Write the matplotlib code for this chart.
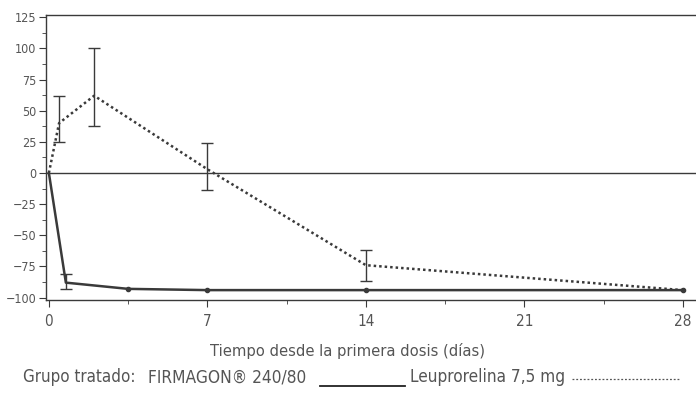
import matplotlib
matplotlib.use("Agg")
import matplotlib.pyplot as plt
from matplotlib.lines import Line2D
from matplotlib.ticker import MultipleLocator

# ================= DATA =================
firm_days = [0, 0.75, 3.5, 7, 14, 28]
firm_vals = [0, -88, -93, -94, -94, -94]
firm_err_day = [0.75]
firm_err_val = [-88]
firm_err_lo = [5]
firm_err_hi = [7]

leup_days = [0, 0.45, 2, 7, 14, 28]
leup_vals = [0, 40, 62, 3, -74, -94]
leup_err_days = [0.45, 2, 7, 14]
leup_err_vals = [40, 62, 3, -74]
leup_err_lo = [15, 24, 16.5, 13]
leup_err_hi = [22, 38.5, 21, 12]

x_ticks = [0, 7, 14, 21, 28]
y_ticks = [-100, -75, -50, -25, 0, 25, 50, 75, 100, 125]

# ================= STYLE =================
plt.rcParams['font.family'] = ['DejaVu Sans']
plt.rcParams['font.stretch'] = 'condensed'
LINE_COL = "#3a3a3a"
TEXT_COL = "#555555"

fig = plt.figure(figsize=(6.96, 3.94), dpi=100)
ax = fig.add_axes([0.066, 0.239, 0.934, 0.723])

ax.axhline(0, color=LINE_COL, lw=1.0, zorder=1)

ax.plot(firm_days, firm_vals, color=LINE_COL, lw=1.8, zorder=3)
ax.plot(firm_days[2:], firm_vals[2:], 'o', color=LINE_COL, ms=3, zorder=4)
ax.errorbar(firm_err_day, firm_err_val, yerr=[firm_err_lo, firm_err_hi],
            fmt='none', ecolor=LINE_COL, elinewidth=1.0, capsize=4, zorder=4)

ax.plot(leup_days, leup_vals, color=LINE_COL, lw=1.8, linestyle=(0, (1, 1.2)), zorder=3)
ax.errorbar(leup_err_days, leup_err_vals, yerr=[leup_err_lo, leup_err_hi],
            fmt='none', ecolor=LINE_COL, elinewidth=1.0, capsize=4, zorder=4)

ax.set_xlim(-0.13, 28.58)
ax.set_ylim(-101.8, 126.8)
ax.set_xticks(x_ticks)
ax.xaxis.set_minor_locator(MultipleLocator(3.5))
ax.set_yticks(y_ticks)
ax.yaxis.set_minor_locator(MultipleLocator(12.5))

ax.spines['right'].set_visible(False)
for s in ['left', 'bottom', 'top']:
    ax.spines[s].set_color(LINE_COL)
    ax.spines[s].set_linewidth(1.0)

ax.tick_params(which='major', direction='out', length=5, color=LINE_COL,
               labelcolor=TEXT_COL, labelsize=9, pad=2)
ax.tick_params(which='minor', direction='out', length=3, color=LINE_COL)
ax.tick_params(axis='x', pad=5, labelsize=11)

# x label is centred on the figure, not on the axes
fig.text(0.5, 1 - 351 / 394, "Tiempo desde la primera dosis (días)",
         fontsize=11.8, color=TEXT_COL, ha='center', va='center')

# ================= LEGEND LINE =================
ly = 1 - 377 / 394
fig.text(23 / 696, ly, "Grupo tratado:", fontsize=12.2, color=TEXT_COL, va='center')
fig.text(148 / 696, ly, "FIRMAGON® 240/80", fontsize=12.4, color=TEXT_COL, va='center')
fig.add_artist(Line2D([320 / 696, 405 / 696], [1 - 386 / 394] * 2,
                     color="#222222", lw=1.3))
fig.text(410 / 696, ly, "Leuprorelina 7,5 mg", fontsize=12.3, color=TEXT_COL, va='center')
fig.add_artist(Line2D([572 / 696, 680 / 696], [1 - 379 / 394] * 2,
                     color=TEXT_COL, lw=0.9, linestyle=(0, (1.5, 1.5))))

fig.savefig("out.png", dpi=100)
